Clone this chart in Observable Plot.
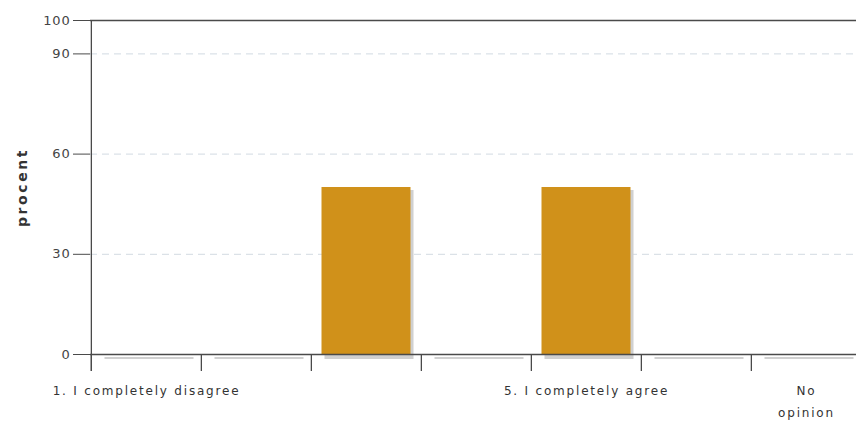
<!DOCTYPE html>
<html><head><meta charset="utf-8">
<script src="https://cdn.jsdelivr.net/npm/d3@7"></script>
<script src="https://cdn.jsdelivr.net/npm/@observablehq/plot@0.6"></script>
<style>
body{margin:0;background:#fff}
g[aria-label="y-axis tick label"] text{font-size:13px;letter-spacing:0.8px;fill:#444}
g[aria-label="y-axis label"] text{font-size:14px;font-weight:bold;letter-spacing:2.6px;fill:#333}
g.xlab text{font-size:12px;letter-spacing:1.8px;fill:#333}
</style>
</head><body><div id="chart"></div>
<script>
const categories = ["1","2","3","4","5","6","No opinion"];
const tickLabels = ["1. I completely disagree","","","","5. I completely agree","","No\nopinion"];
const values = [0,0,50,0,50,0,0];
const yTicks = [0,30,60,90,100];
const gridValues = [30,60,90];

const data = categories.map((c,i)=>({category:c, label:tickLabels[i], value:values[i]}));
const W=856, H=421;
const xRange=[90,862];
const bw=(xRange[1]-xRange[0])/categories.length;
const axisColor="#4a4a4a";
const plot = Plot.plot({
  width: W, height: H, marginLeft: 90, marginTop: 20, marginBottom: 67, marginRight: 0,
  style: {fontFamily: "'DejaVu Sans', sans-serif", background:"#fff", overflow:"visible"},
  x: {domain: categories, range: xRange, padding: 0, axis: null},
  y: {domain: [0,100]},
  marks: [
    Plot.ruleY(gridValues, {stroke:"#d2dae2", strokeDasharray:"7,5"}),
    Plot.rectY(data, {x:"category", y:"value", fill:"#d0d0d0", insetLeft:10.5, insetRight:10.5, dx:3, dy:3}),
    Plot.tickY(data, {x:"category", y:d=>0, stroke:"#d0d0d0", strokeWidth:2, insetLeft:10.5, insetRight:10.5, dx:3, dy:3.5}),
    Plot.rectY(data, {x:"category", y:"value", fill:"#d0911a", insetLeft:10.5, insetRight:10.5}),
    Plot.ruleY([0], {stroke:axisColor, strokeWidth:1.3}),
    Plot.ruleY([100], {stroke:axisColor, strokeWidth:1.5}),
    Plot.ruleX([categories[0]], {dx:-bw/2, stroke:axisColor, strokeWidth:1.3, insetBottom:-17}),
    Plot.ruleX(categories, {x:d=>d, dx:-bw/2, y1:d=>0, y2:d=>0, insetBottom:-17, stroke:axisColor, strokeWidth:1.3}),
    Plot.axisY({ticks: yTicks, tickSize: 17, tickPadding: 3, stroke: axisColor, label: "procent", labelAnchor: "center", labelOffset: 73, labelArrow: "none"}),
    Plot.text(data, {x:"category", y:d=>0, text:"label", dy:25, lineAnchor:"top", lineHeight:1.85, className:"xlab"})
  ]
});
document.getElementById("chart").append(plot);
</script>
</body></html>
